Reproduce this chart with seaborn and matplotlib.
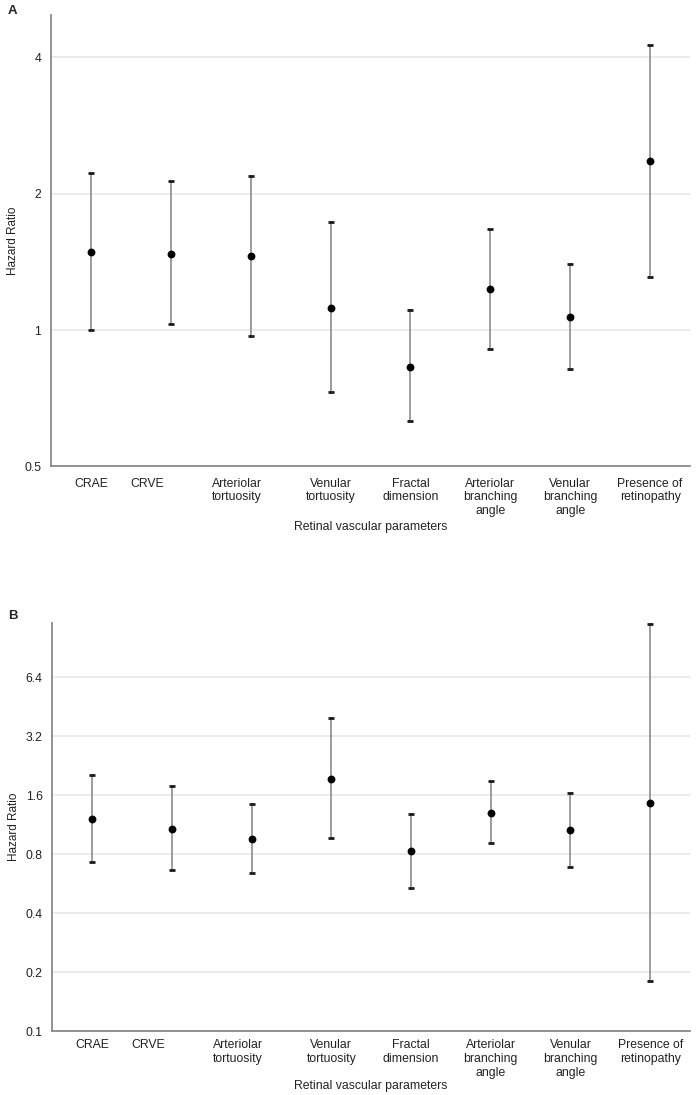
import matplotlib
matplotlib.use("Agg")
import matplotlib.pyplot as plt
from matplotlib.transforms import ScaledTranslation
import seaborn as sns
from pandas import DataFrame

sns.set_style("white")
plt.rcParams["font.family"] = ["Liberation Sans", "DejaVu Sans"]

# параметры сосудов сетчатки
params = ["CRAE", "CRVE", "Arteriolar\ntortuosity", "Venular\ntortuosity",
          "Fractal\ndimension", "Arteriolar\nbranching\nangle",
          "Venular\nbranching\nangle", "Presence of\nretinopathy"]

# панель A: hazard ratio и 95% ДИ
hr_a = [1.49, 1.47, 1.46, 1.12, 0.83, 1.23, 1.07, 2.36]
lo_a = [1.00, 1.03, 0.97, 0.73, 0.63, 0.91, 0.82, 1.31]
hi_a = [2.22, 2.13, 2.19, 1.73, 1.11, 1.67, 1.40, 4.26]

# панель B
hr_b = [1.21, 1.08, 0.95, 1.94, 0.83, 1.30, 1.06, 1.46]
lo_b = [0.73, 0.66, 0.64, 0.97, 0.54, 0.91, 0.69, 0.18]
hi_b = [2.03, 1.78, 1.44, 3.94, 1.28, 1.88, 1.63, 11.9]

ticks_a = [0.5, 1, 2, 4]
ticks_b = [0.1, 0.2, 0.4, 0.8, 1.6, 3.2, 6.4]

# сдвиг подписей по x как в оригинале (в дюймах)
label_shift = [0, -0.24, -0.14, 0, 0, 0, 0, 0]

txt = "#222222"


def long_form(hr, lo, hi):
    rows = []
    for p, a, b, c in zip(params, lo, hr, hi):
        rows += [(p, a), (p, b), (p, c)]
    return DataFrame(rows, columns=["param", "hr"])


def draw(ax, hr, lo, hi, ticks, ylim, xlab_y, pad):
    ax.set_yscale("log", base=2)
    # линии ДИ + точка (медиана из трёх = HR)
    sns.pointplot(
        data=long_form(hr, lo, hi), x="param", y="hr", ax=ax,
        estimator="median", errorbar=("pi", 100),
        linestyle="none", color="black", markersize=3.6,
        err_kws={"color": "#8c8c8c", "linewidth": 1.2, "zorder": 1},
    )
    # засечки на концах
    for ends in (lo, hi):
        sns.pointplot(x=params, y=ends, ax=ax, errorbar=None,
                      linestyle="none", color="#1a1a1a", markers="_",
                      markersize=5, markeredgewidth=2)
    ax.set_ylim(*ylim)
    ax.set_xlim(-0.5, len(params) - 0.5)
    ax.set_yticks(ticks)
    ax.set_yticklabels([f"{t:g}" for t in ticks], fontsize=8.8, color=txt)
    ax.minorticks_off()
    ax.yaxis.grid(True, color="#e6e6e6", linewidth=1.1)
    ax.set_axisbelow(True)
    ax.tick_params(axis="y", length=3, width=0.8, color="#888888", pad=4)
    ax.tick_params(axis="x", length=0, pad=pad, labelsize=8.8, labelcolor=txt)
    for lab, dx in zip(ax.get_xticklabels(), label_shift):
        lab.set_transform(lab.get_transform() + ScaledTranslation(dx, 0, fig.dpi_scale_trans))
    for s in ["top", "right"]:
        ax.spines[s].set_visible(False)
    for s in ["left", "bottom"]:
        ax.spines[s].set_color("#8a8a8a")
        ax.spines[s].set_linewidth(1.3)
    ax.set_xlabel("Retinal vascular parameters", fontsize=8.8, color=txt)
    ax.xaxis.set_label_coords(0.5, xlab_y)
    ax.xaxis.label.set_va("center")
    ax.set_ylabel("Hazard Ratio", fontsize=8.5, color=txt)


fig = plt.figure(figsize=(6.97, 10.95), dpi=100)
ax_a = fig.add_axes([0.073, 0.574, 0.917, 0.412])
ax_b = fig.add_axes([0.075, 0.0584, 0.915, 0.3726])

draw(ax_a, hr_a, lo_a, hi_a, ticks_a, (0.5, 4.95), -61 / 451, 8)
draw(ax_b, hr_b, lo_b, hi_b, ticks_b, (0.1, 12.07), -55 / 408, 6)

fig.text(12 / 697, 1 - 11 / 1095, "A", fontsize=9.5, fontweight="bold", ha="center", va="center")
fig.text(13 / 697, 1 - 616 / 1095, "B", fontsize=9.5, fontweight="bold", ha="center", va="center")

fig.savefig("out.png", dpi=100)
